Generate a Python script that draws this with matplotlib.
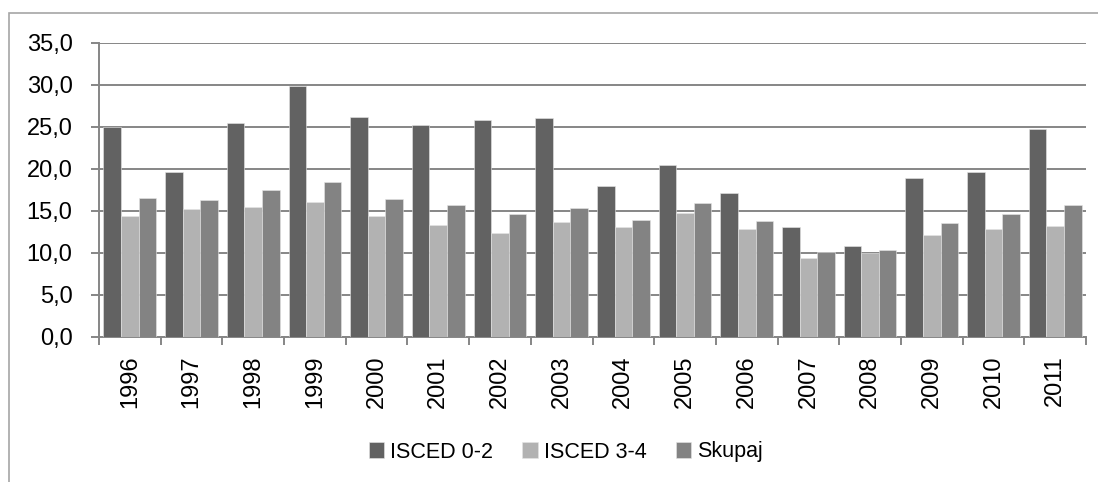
import numpy as np
import matplotlib.pyplot as plt
from matplotlib.patches import Rectangle
from matplotlib.ticker import FuncFormatter

years = ['1996', '1997', '1998', '1999', '2000', '2001', '2002', '2003',
         '2004', '2005', '2006', '2007', '2008', '2009', '2010', '2011']
isced_02 = [25.0, 19.6, 25.5, 29.9, 26.2, 25.2, 25.8, 26.1,
            18.0, 20.5, 17.2, 13.1, 10.8, 18.9, 19.6, 24.8]
isced_34 = [14.4, 15.2, 15.5, 16.1, 14.4, 13.3, 12.4, 13.7,
            13.1, 14.8, 12.8, 9.4, 10.0, 12.2, 12.8, 13.2]
skupaj = [16.5, 16.3, 17.5, 18.5, 16.4, 15.7, 14.7, 15.3,
          13.9, 15.9, 13.85, 10.1, 10.35, 13.6, 14.7, 15.7]

plt.rcParams['font.family'] = 'Liberation Sans'
plt.rcParams['font.size'] = 16

W, H = 1098, 482
fig = plt.figure(figsize=(W / 100, H / 100), dpi=100)
ax = fig.add_axes([99 / W, 1 - 337 / H, (1086 - 99) / W, (337 - 43) / H])

# chart border (Excel-style), cropped on right/bottom
fig.patches.append(Rectangle((9 / W, -0.1), 1.2, 1 - 13 / H + 0.1,
                             transform=fig.transFigure, fill=False,
                             edgecolor='#a6a6a6', linewidth=1.2))

x = np.arange(len(years))
w = 0.285
ax.bar(x - w, isced_02, w, color='#626262', edgecolor='#e6e6e6', linewidth=0.4,
       label='ISCED 0-2', zorder=3)
ax.bar(x, isced_34, w, color='#b2b2b2', edgecolor='#e6e6e6', linewidth=0.4,
       label='ISCED 3-4', zorder=3)
ax.bar(x + w, skupaj, w, color='#838383', edgecolor='#e6e6e6', linewidth=0.4,
       label='Skupaj', zorder=3)

ax.set_xlim(-0.5, len(years) - 0.5)
ax.set_ylim(0, 35)
ax.set_yticks(np.arange(0, 36, 5))
ax.yaxis.set_major_formatter(FuncFormatter(lambda v, p: f'{v:.1f}'.replace('.', ',')))
ax.grid(axis='y', color='#868686', linewidth=1.4, zorder=0)

ax.set_xticks(x)
ax.set_xticklabels(years, rotation=90, fontsize=17)
ax.set_xticks(np.arange(-0.5, len(years)), minor=True)
ax.tick_params(axis='x', which='major', length=0, pad=13)
ax.tick_params(axis='x', which='minor', length=6, color='#868686', width=1.4)
ax.tick_params(axis='y', length=6, color='#868686', width=1.4, labelsize=17, pad=13)

for s in ['top', 'right']:
    ax.spines[s].set_visible(False)
for s in ['left', 'bottom']:
    ax.spines[s].set_color('#868686')
    ax.spines[s].set_linewidth(1.4)

fig.legend(loc='center', bbox_to_anchor=(566 / W, 1 - 452 / H), ncol=3, frameon=False,
           fontsize=15.5, handlelength=0.7, handleheight=0.7, handletextpad=0.3,
           columnspacing=1.35, borderaxespad=0)

fig.savefig('out.png', dpi=100)
